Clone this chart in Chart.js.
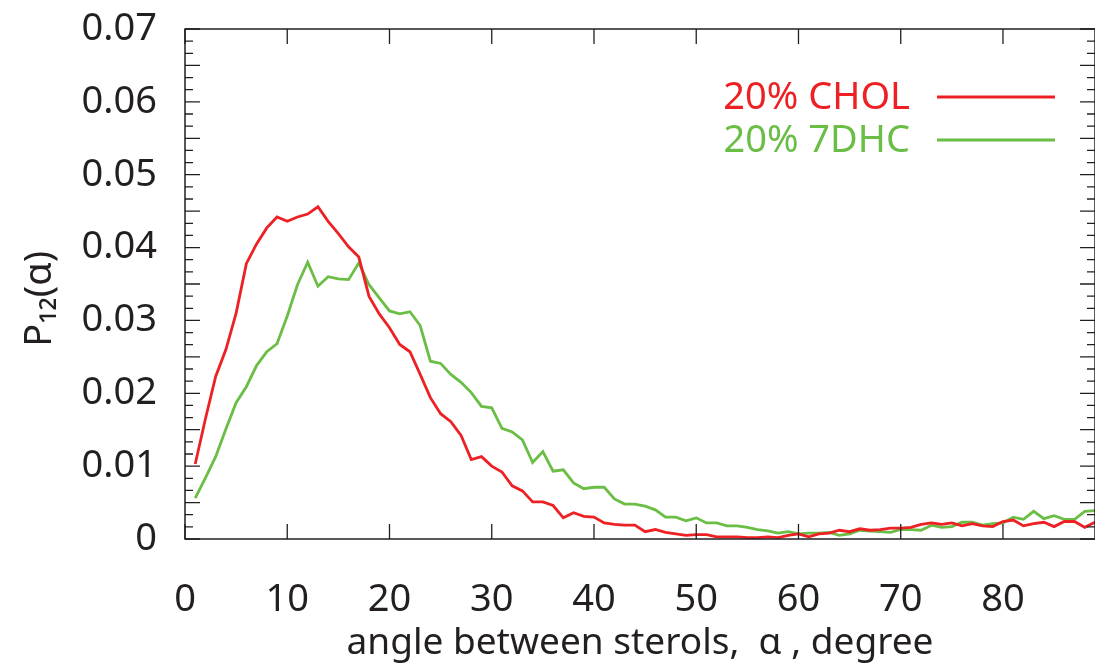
<!DOCTYPE html>
<html>
<head>
<meta charset="utf-8">
<script src="https://cdn.jsdelivr.net/npm/chart.js@4"></script>
<style>
  html, body { margin: 0; padding: 0; background: #ffffff; overflow: hidden; }
  #chart { display: block; }
</style>
</head>
<body>
<canvas id="chart" width="1095" height="666"></canvas>
<script>
// Angle distribution between sterols, P12(alpha)

const angles = [
  1, 2, 3, 4, 5, 6, 7, 8, 9, 10, 11, 12, 13, 14, 15, 16, 17, 18, 19, 20,
  21, 22, 23, 24, 25, 26, 27, 28, 29, 30, 31, 32, 33, 34, 35, 36, 37, 38, 39, 40,
  41, 42, 43, 44, 45, 46, 47, 48, 49, 50, 51, 52, 53, 54, 55, 56, 57, 58, 59, 60,
  61, 62, 63, 64, 65, 66, 67, 68, 69, 70, 71, 72, 73, 74, 75, 76, 77, 78, 79, 80,
  81, 82, 83, 84, 85, 86, 87, 88, 89
];

const cholValues = [
  0.0103, 0.0165, 0.0223, 0.0260, 0.0310, 0.0378, 0.0405, 0.0427, 0.0442, 0.0436,
  0.0442, 0.0446, 0.0456, 0.0436, 0.0419, 0.0401, 0.0387, 0.0333, 0.0309, 0.0290,
  0.0267, 0.0257, 0.0226, 0.0194, 0.0172, 0.0161, 0.0142, 0.0109, 0.0113, 0.0100,
  0.0092, 0.0073, 0.0066, 0.0051, 0.0051, 0.0046, 0.0029, 0.0036, 0.0031, 0.0030,
  0.0022, 0.0020, 0.0019, 0.0019, 0.0010, 0.0013, 0.0009, 0.0007, 0.0005, 0.0006,
  0.0006, 0.0003, 0.0003, 0.0003, 0.0002, 0.0002, 0.0003, 0.0002, 0.0005, 0.0007,
  0.0003, 0.0007, 0.0008, 0.0012, 0.0010, 0.0014, 0.0012, 0.0013, 0.0015, 0.0015,
  0.0016, 0.0020, 0.0022, 0.0020, 0.0022, 0.0018, 0.0021, 0.0018, 0.0017, 0.0024,
  0.0026, 0.0018, 0.0021, 0.0023, 0.0017, 0.0024, 0.0024, 0.0016, 0.0023
];

const dhcValues = [
  0.0056, 0.0084, 0.0113, 0.0151, 0.0187, 0.0209, 0.0238, 0.0257, 0.0268, 0.0306,
  0.0349, 0.0380, 0.0347, 0.0360, 0.0357, 0.0356, 0.0379, 0.0349, 0.0331, 0.0313,
  0.0309, 0.0312, 0.0293, 0.0244, 0.0241, 0.0226, 0.0215, 0.0201, 0.0182, 0.0180,
  0.0152, 0.0147, 0.0136, 0.0105, 0.0120, 0.0093, 0.0095, 0.0077, 0.0069, 0.0071,
  0.0071, 0.0055, 0.0048, 0.0048, 0.0045, 0.0040, 0.0030, 0.0030, 0.0025, 0.0029,
  0.0022, 0.0022, 0.0018, 0.0018, 0.0016, 0.0013, 0.0011, 0.0008, 0.0010, 0.0007,
  0.0008, 0.0008, 0.0009, 0.0005, 0.0007, 0.0012, 0.0011, 0.0010, 0.0009, 0.0013,
  0.0013, 0.0012, 0.0019, 0.0016, 0.0017, 0.0023, 0.0023, 0.0019, 0.0021, 0.0022,
  0.0030, 0.0027, 0.0038, 0.0028, 0.0032, 0.0027, 0.0027, 0.0038, 0.0039
];

const seriesLabels = ['20% CHOL', '20% 7DHC'];
const seriesColors = ['#ed2024', '#6abd45'];

const xTicks = [0, 10, 20, 30, 40, 50, 60, 70, 80];
const yTicks = [0, 0.01, 0.02, 0.03, 0.04, 0.05, 0.06, 0.07];
const yTickLabels = ['0', '0.01', '0.02', '0.03', '0.04', '0.05', '0.06', '0.07'];

const FONT = "'Noto Sans', 'DejaVu Sans', sans-serif";
const INK = '#231f20';

// frame with inward ticks on all four sides
const frameTicks = {
  id: 'frameTicks',
  afterDatasetsDraw(chart) {
    const { ctx, chartArea: a, scales: { x, y } } = chart;
    ctx.save();
    ctx.strokeStyle = INK;
    ctx.lineWidth = 1.5;
    ctx.strokeRect(a.left, a.top, a.right - a.left, a.bottom - a.top);

    ctx.lineWidth = 1.3;
    ctx.beginPath();
    // y: 6 small steps per 0.01, long tick every 0.005
    const yStep = (yTicks[1] - yTicks[0]) / 6;
    const ySteps = Math.round((yTicks[yTicks.length - 1] - yTicks[0]) / yStep);
    for (let i = 0; i <= ySteps; i++) {
      const py = y.getPixelForValue(yTicks[0] + i * yStep);
      const len = i % 3 === 0 ? 15 : 8;
      ctx.moveTo(a.left, py); ctx.lineTo(a.left + len, py);
      ctx.moveTo(a.right, py); ctx.lineTo(a.right - len, py);
    }
    xTicks.forEach(v => {
      const px = x.getPixelForValue(v);
      ctx.moveTo(px, a.bottom); ctx.lineTo(px, a.bottom - 15);
      ctx.moveTo(px, a.top); ctx.lineTo(px, a.top + 15);
    });
    ctx.stroke();
    ctx.restore();
  }
};

// legend: label text on the left, line sample on the right
const sideLegend = {
  id: 'sideLegend',
  afterDraw(chart) {
    const { ctx, chartArea: a } = chart;
    ctx.save();
    ctx.font = '38px ' + FONT;
    ctx.textAlign = 'right';
    ctx.textBaseline = 'middle';
    chart.data.datasets.forEach((ds, i) => {
      const cy = a.top + 68 + i * 43;
      ctx.fillStyle = ds.borderColor;
      ctx.fillText(ds.label, a.right - 185, cy + 1);
      ctx.strokeStyle = ds.borderColor;
      ctx.lineWidth = 2.8;
      ctx.beginPath();
      ctx.moveTo(a.right - 158, cy);
      ctx.lineTo(a.right - 40, cy);
      ctx.stroke();
    });
    ctx.restore();
  }
};

new Chart(document.getElementById('chart'), {
  type: 'line',
  data: {
    datasets: [
      {
        label: seriesLabels[0],
        data: angles.map((a, i) => ({ x: a, y: cholValues[i] })),
        borderColor: seriesColors[0],
        backgroundColor: seriesColors[0],
        borderWidth: 2.8,
        pointRadius: 0,
        tension: 0
      },
      {
        label: seriesLabels[1],
        data: angles.map((a, i) => ({ x: a, y: dhcValues[i] })),
        borderColor: seriesColors[1],
        backgroundColor: seriesColors[1],
        borderWidth: 2.8,
        pointRadius: 0,
        tension: 0
      }
    ]
  },
  options: {
    responsive: false,
    animation: false,
    devicePixelRatio: 1,
    layout: { padding: { left: 17, top: 29, right: 0, bottom: 0 } },
    plugins: {
      legend: { display: false },
      tooltip: { enabled: false }
    },
    scales: {
      x: {
        type: 'linear',
        min: 0,
        max: 89,
        afterBuildTicks: s => { s.ticks = xTicks.map(v => ({ value: v })); },
        afterFit: s => {
          s.height = 127;
          s.paddingLeft = 0;
          s.paddingRight = 0;
        },
        grid: { display: false, drawTicks: false },
        border: { display: false },
        ticks: { color: INK, padding: 38, font: { family: FONT, size: 38 } },
        title: {
          display: true,
          text: 'angle between sterols,  α , degree',
          color: INK,
          padding: 0,
          font: { family: FONT, size: 37 }
        }
      },
      y: {
        type: 'linear',
        min: 0,
        max: 0.07,
        afterBuildTicks: s => { s.ticks = yTicks.map(v => ({ value: v })); },
        afterFit: s => {
          s.width = 168;
          s.paddingTop = 0;
          s.paddingBottom = 0;
        },
        grid: { display: false, drawTicks: false },
        border: { display: false },
        ticks: {
          color: INK,
          padding: 28,
          font: { family: FONT, size: 38 },
          callback: (v, i) => yTickLabels[i]
        },
        title: {
          display: true,
          text: 'P₁₂(α)   ',
          color: INK,
          padding: 0,
          font: { family: FONT, size: 38 }
        }
      }
    }
  },
  plugins: [frameTicks, sideLegend]
});
</script>
</body>
</html>
